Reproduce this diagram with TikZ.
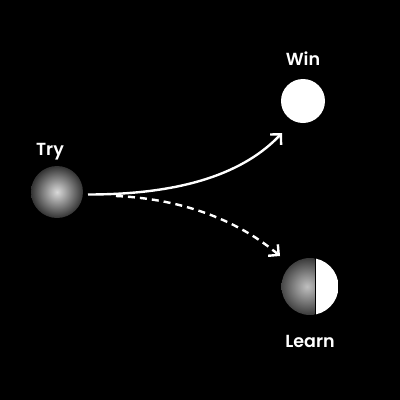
\documentclass[tikz,border=0pt]{standalone}
\usepackage{fontspec}
\setmainfont{Poppins}[UprightFont=* SemiBold]
\usetikzlibrary{arrows.meta}
\pgfdeclareradialshading{softball}{\pgfpoint{0bp}{0bp}}{color(0bp)=(black!15); color(6bp)=(black!30); color(25bp)=(black!80); color(50bp)=(black!85)}
\pgfdeclareradialshading{halfball}{\pgfpoint{0bp}{0bp}}{color(0bp)=(black!25); color(9bp)=(black!45); color(25bp)=(black!82); color(50bp)=(black!85)}
\tikzset{
  lbl/.style={text=white, font=\fontsize{17.5}{20}\selectfont, inner sep=0pt},
  conn/.style={draw=white, line width=2.4pt, -{Straight Barb[length=7.5pt,width=15pt,line width=2.4pt]}},
  dashconn/.style={conn, dash pattern=on 7pt off 5pt},
}
\begin{document}
\begin{tikzpicture}[x=1pt,y=-1pt]
\fill[black] (0,0) rectangle (400,400);
\useasboundingbox (0,0) rectangle (400,400);
% labels
\node[lbl] (trylbl) at (50,152) {Try};
\node[lbl] (winlbl) at (303,59) {Win};
\node[lbl] (learnlbl) at (310,341) {Learn};
% balls
\node[circle, minimum size=52pt, inner sep=0pt, shading=softball] (try) at (57,192) {};
\node[circle, minimum size=44pt, inner sep=0pt, fill=white] (win) at (303,101) {};
\node[circle, minimum size=57pt, inner sep=0pt,
  path picture={
    \begin{scope}
      \clip (path picture bounding box.south west) rectangle ([xshift=4.5pt]path picture bounding box.north);
      \shade[shading=halfball] ([xshift=-3pt]path picture bounding box.center) circle (31pt);
    \end{scope}
    \fill[white] ([xshift=5.5pt]path picture bounding box.south) rectangle (path picture bounding box.north east);
  }] (learn) at (310,286.5) {};
% arrow end points
\coordinate (winend) at (282,133);
\coordinate (learnend) at (280,256);
\coordinate (trystart) at (88,194.5);
\coordinate (dashstart) at (116,196);
% connectors
\draw[conn] (trystart) .. controls (185,194.5) and (245,172) .. (winend);
\draw[dashconn] (dashstart) .. controls (185,199) and (240,222) .. (learnend);
\end{tikzpicture}
\end{document}
